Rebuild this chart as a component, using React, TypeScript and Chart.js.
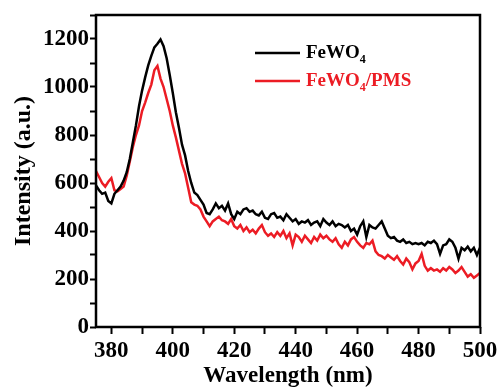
import React, { useEffect, useRef } from "react";
import { Chart, registerables } from "chart.js";

Chart.register(...registerables);

const wavelengths = [
  375, 376, 377, 378, 379, 380, 381, 382, 383, 384, 385, 386, 387, 388, 389, 390,
  391, 392, 393, 394, 395, 396, 397, 398, 399, 400, 401, 402, 403, 404, 405, 406,
  407, 408, 409, 410, 411, 412, 413, 414, 415, 416, 417, 418, 419, 420, 421, 422,
  423, 424, 425, 426, 427, 428, 429, 430, 431, 432, 433, 434, 435, 436, 437, 438,
  439, 440, 441, 442, 443, 444, 445, 446, 447, 448, 449, 450, 451, 452, 453, 454,
  455, 456, 457, 458, 459, 460, 461, 462, 463, 464, 465, 466, 467, 468, 469, 470,
  471, 472, 473, 474, 475, 476, 477, 478, 479, 480, 481, 482, 483, 484, 485, 486,
  487, 488, 489, 490, 491, 492, 493, 494, 495, 496, 497, 498, 499, 500,
];

const fewo4 = [
  590, 570, 555, 560, 525, 515, 555, 570, 585, 610, 645, 700, 770, 840, 920, 985,
  1040, 1090, 1130, 1165, 1180, 1198, 1170, 1120, 1050, 975, 895, 830, 760, 715, 650, 600,
  560, 550, 530, 510, 475, 470, 490, 515, 495, 505, 485, 515, 470, 450, 480, 470,
  490, 495, 480, 485, 470, 465, 480, 455, 450, 470, 475, 455, 460, 445, 470, 455,
  440, 450, 430, 440, 435, 445, 425, 435, 440, 420, 450, 435, 425, 440, 420, 430,
  425, 415, 425, 400, 410, 385, 420, 440, 375, 425, 415, 410, 425, 440, 410, 380,
  370, 375, 360, 355, 365, 350, 355, 345, 350, 345, 350, 340, 355, 350, 360, 345,
  305, 340, 345, 365, 355, 330, 285, 330, 320, 335, 315, 330, 300, 330,
];

const fewo4Pms = [
  650, 625, 600, 585, 605, 620, 570, 565, 575, 585, 630, 690, 750, 800, 840, 900,
  935, 975, 1010, 1070, 1088, 1035, 1000, 950, 900, 840, 790, 735, 680, 640, 580, 520,
  510, 505, 490, 460, 440, 420, 440, 450, 460, 445, 440, 430, 450, 420, 410, 425,
  400, 415, 395, 405, 390, 410, 425, 395, 380, 390, 375, 395, 380, 400, 370, 390,
  340, 385, 375, 355, 380, 365, 350, 375, 360, 385, 370, 380, 365, 355, 370, 345,
  330, 355, 340, 365, 375, 355, 340, 330, 350, 345, 360, 315, 300, 295, 285, 300,
  290, 280, 295, 275, 260, 285, 270, 240, 265, 275, 305, 255, 235, 245, 235, 240,
  230, 245, 235, 250, 240, 225, 235, 250, 230, 210, 220, 205, 215, 225,
];

const xTicks = [380, 390, 400, 410, 420, 430, 440, 450, 460, 470, 480, 490, 500];
const xTickLabels = [380, 400, 420, 440, 460, 480, 500];
const yTicks = [0, 100, 200, 300, 400, 500, 600, 700, 800, 900, 1000, 1100, 1200, 1300];
const yTickLabels = [0, 200, 400, 600, 800, 1000, 1200];

const seriesNames = ["FeWO", "FeWO"];
const seriesColors = ["#000000", "#ec1c24"];

const SERIF = '"Liberation Serif", "Times New Roman", serif';

const framePlugin = {
  id: "frameAndLegend",
  afterDraw(chart: any) {
    const { ctx, chartArea } = chart;
    ctx.save();
    ctx.strokeStyle = "#000";
    ctx.lineWidth = 2.5;
    ctx.strokeRect(chartArea.left, chartArea.top, chartArea.right - chartArea.left, chartArea.bottom - chartArea.top);

    const items = [
      { color: seriesColors[0], y: 53, suffix: "" },
      { color: seriesColors[1], y: 81, suffix: "/PMS" },
    ];
    items.forEach((it, i) => {
      ctx.strokeStyle = it.color;
      ctx.lineWidth = 2.5;
      ctx.beginPath();
      ctx.moveTo(255, it.y);
      ctx.lineTo(300, it.y);
      ctx.stroke();
      ctx.fillStyle = it.color;
      ctx.textBaseline = "middle";
      ctx.textAlign = "left";
      ctx.font = `bold 19px ${SERIF}`;
      let x = 306;
      ctx.fillText(seriesNames[i], x, it.y);
      x += ctx.measureText(seriesNames[i]).width;
      ctx.font = `bold 12px ${SERIF}`;
      ctx.fillText("4", x, it.y + 7);
      x += ctx.measureText("4").width;
      if (it.suffix) {
        ctx.font = `bold 19px ${SERIF}`;
        ctx.fillText(it.suffix, x, it.y);
      }
    });
    ctx.restore();
  },
};

export default function App() {
  const ref = useRef<HTMLCanvasElement | null>(null);
  useEffect(() => {
    if (!ref.current) return;
    const chart = new Chart(ref.current, {
      type: "line",
      data: {
        datasets: [
          {
            label: "FeWO4",
            data: wavelengths.map((w, i) => ({ x: w, y: fewo4[i] })),
            borderColor: seriesColors[0],
            borderWidth: 2.5,
            pointRadius: 0,
            tension: 0,
          },
          {
            label: "FeWO4/PMS",
            data: wavelengths.map((w, i) => ({ x: w, y: fewo4Pms[i] })),
            borderColor: seriesColors[1],
            borderWidth: 2.5,
            pointRadius: 0,
            tension: 0,
          },
        ],
      },
      options: {
        responsive: false,
        animation: false,
        layout: { padding: { top: 15, right: 24, left: 0, bottom: 0 } },
        plugins: { legend: { display: false }, tooltip: { enabled: false } },
        scales: {
          x: {
            type: "linear",
            min: 375,
            max: 500,
            afterBuildTicks: (s: any) => {
              s.ticks = xTicks.map((v) => ({ value: v }));
            },
            afterFit: (s: any) => {
              s.height = 64;
            },
            ticks: {
              autoSkip: false,
              maxRotation: 0,
              padding: 3,
              color: "#000",
              font: { family: SERIF, size: 23, weight: "bold" },
              callback: (v: any) => (xTickLabels.includes(Number(v)) ? String(v) : ""),
            },
            grid: { drawOnChartArea: false, drawTicks: true, tickLength: 7, tickWidth: 2, tickColor: "#000" },
            border: { display: false },
            title: {
              display: true,
              text: "Wavelength (nm)",
              color: "#000",
              font: { family: SERIF, size: 23, weight: "bold" },
              padding: { top: 0, bottom: 1 },
            },
          },
          y: {
            type: "linear",
            min: 0,
            max: 1300,
            afterBuildTicks: (s: any) => {
              s.ticks = yTicks.map((v) => ({ value: v }));
            },
            afterFit: (s: any) => {
              s.width = 96;
            },
            ticks: {
              autoSkip: false,
              padding: 1,
              color: "#000",
              font: { family: SERIF, size: 23, weight: "bold" },
              callback: (v: any) => (yTickLabels.includes(Number(v)) ? String(v) : ""),
            },
            grid: { drawOnChartArea: false, drawTicks: true, tickLength: 6, tickWidth: 2, tickColor: "#000" },
            border: { display: false },
            title: {
              display: true,
              text: "Intensity (a.u.)",
              color: "#000",
              font: { family: SERIF, size: 24, weight: "bold" },
              padding: { top: 9, bottom: 0 },
            },
          },
        },
      },
      plugins: [framePlugin],
    } as any);
    return () => chart.destroy();
  }, []);
  return (
    <div style={{ position: "fixed", left: 0, top: 0, width: 504, height: 391, background: "#fff" }}>
      <canvas ref={ref} width={504} height={391} style={{ width: 504, height: 391 }} />
    </div>
  );
}
